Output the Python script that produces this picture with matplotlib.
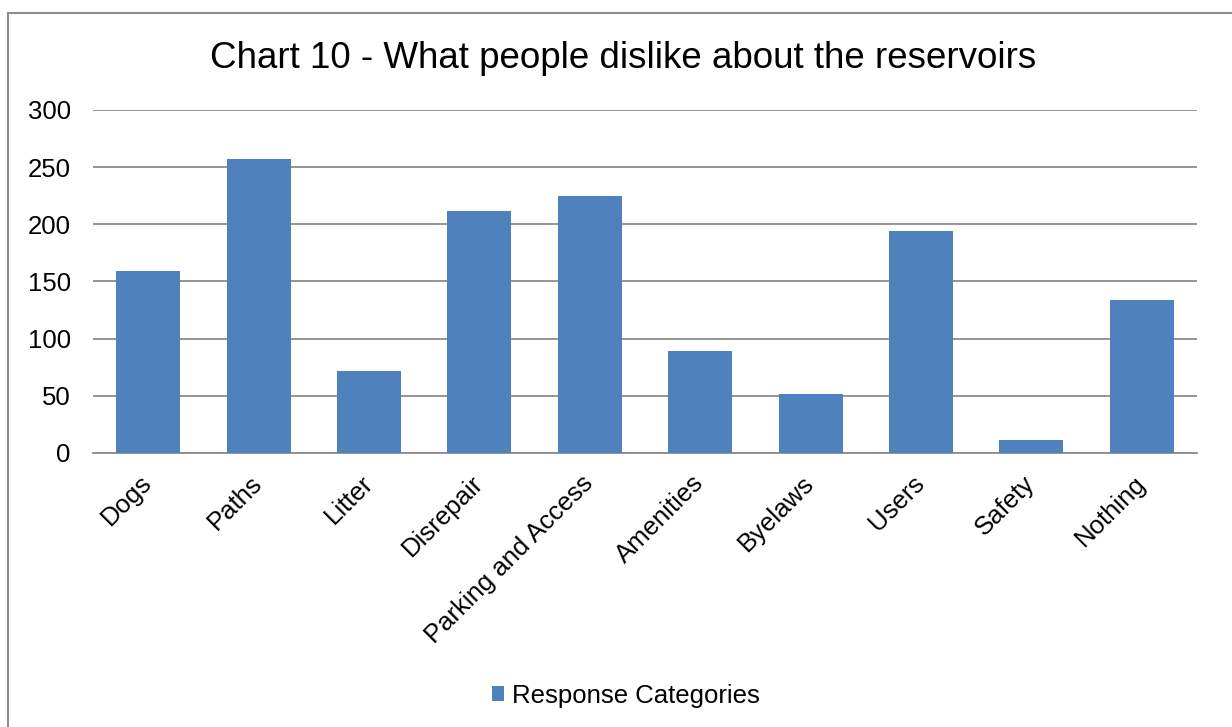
import matplotlib.pyplot as plt
from matplotlib.patches import Rectangle

plt.rcParams['font.family'] = ['Liberation Sans', 'DejaVu Sans']

categories = ["Dogs", "Paths", "Litter", "Disrepair", "Parking and Access",
              "Amenities", "Byelaws", "Users", "Safety", "Nothing"]
responses = [159, 257, 72, 212, 225, 89, 52, 194, 11, 134]
yticks = [0, 50, 100, 150, 200, 250, 300]

fig = plt.figure(figsize=(12.32, 7.27), dpi=100)
ax = fig.add_axes([0.0755, 0.3769, 0.8961, 0.4718])

# outer chart frame
fig.patches.append(Rectangle((8 / 1232, -0.05), 1.2, (727 - 13) / 727 + 0.05,
                             transform=fig.transFigure, fill=False,
                             edgecolor='#8c8c8c', linewidth=1.5))

x = range(len(categories))
ax.bar(x, responses, width=0.58, color='#4F81BD', zorder=3,
       label='Response Categories')

ax.set_xlim(-0.5, len(categories) - 0.5)
ax.set_ylim(0, 300)
ax.set_yticks(yticks)
ax.set_yticklabels([str(v) for v in yticks], fontsize=18.5)
ax.yaxis.grid(True, color='#8c8c8c', linewidth=1.3, zorder=0)
ax.tick_params(axis='y', length=0, pad=16)
ax.set_xticks(list(x))
ax.set_xticklabels(categories, rotation=45, ha='right', va='center',
                   rotation_mode='anchor', fontsize=18.5)
ax.tick_params(axis='x', length=0, pad=19)

for side in ['top', 'right', 'left']:
    ax.spines[side].set_visible(False)
ax.spines['bottom'].set_color('#8c8c8c')
ax.spines['bottom'].set_linewidth(1.3)

fig.text(0.506, 0.92, 'Chart 10 - What people dislike about the reservoirs',
         ha='center', va='center', fontsize=26.5)

fig.legend(loc='center', bbox_to_anchor=(0.508, 0.043), frameon=False,
           fontsize=18.5, handlelength=0.5, handleheight=0.5,
           handletextpad=0.3)

fig.savefig('out.png', dpi=100)
